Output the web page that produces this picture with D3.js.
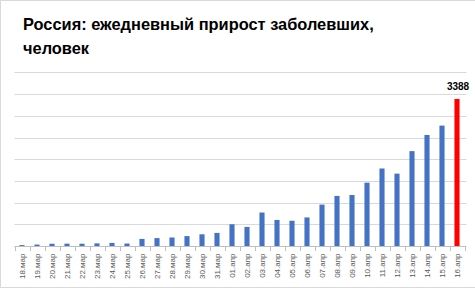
<!DOCTYPE html>
<html lang="ru">
<head>
  <meta charset="utf-8">
  <title>Россия: ежедневный прирост заболевших</title>
  <style>
    body { margin: 0; background: #fff; }
    svg { display: block; font-family: 'Liberation Sans', Arial, sans-serif; }
  </style>
</head>
<body>
  <div id="chart"></div>
  <script src="https://d3js.org/d3.v7.min.js"></script>
  <script>
    // dates on the x axis
    var days = ["18.мар", "19.мар", "20.мар", "21.мар", "22.мар", "23.мар", "24.мар", "25.мар",
      "26.мар", "27.мар", "28.мар", "29.мар", "30.мар", "31.мар", "01.апр", "02.апр", "03.апр",
      "04.апр", "05.апр", "06.апр", "07.апр", "08.апр", "09.апр", "10.апр", "11.апр", "12.апр",
      "13.апр", "14.апр", "15.апр", "16.апр"];

    // new cases per day
    var cases = [21, 33, 52, 54, 53, 61, 71, 57, 163, 182, 196, 228, 270, 302, 501, 440, 771,
      601, 582, 658, 954, 1154, 1175, 1459, 1786, 1667, 2186, 2558, 2774, 3388];

    var gridTicks = [0, 500, 1000, 1500, 2000, 2500, 3000, 3500, 4000];

    var width = 475, height = 289;
    var margin = { top: 72.4, right: 10.5, bottom: 43, left: 14.5 };

    var svg = d3.select("#chart").append("svg")
      .attr("width", width)
      .attr("height", height);

    // outer frame
    svg.append("rect")
      .attr("x", 0.5).attr("y", 0.5)
      .attr("width", width + 10).attr("height", 287)
      .attr("fill", "none")
      .attr("stroke", "#d9d9d9");

    // title
    var title = svg.append("text")
      .attr("x", 23)
      .attr("font-size", 16.4)
      .attr("font-weight", "bold")
      .attr("fill", "#000");
    title.append("tspan").attr("x", 23).attr("y", 30).text("Россия: ежедневный прирост заболевших,");
    title.append("tspan").attr("x", 23).attr("y", 54).text("человек");

    var x = d3.scaleBand()
      .domain(days)
      .range([margin.left, width - margin.right])
      .paddingInner(0.66)
      .paddingOuter(0.33);

    var y = d3.scaleLinear()
      .domain([0, 4000])
      .range([height - margin.bottom, margin.top]);

    // horizontal grid
    svg.append("g")
      .selectAll("line")
      .data(gridTicks.slice(1))
      .join("line")
      .attr("x1", margin.left)
      .attr("x2", width - margin.right + 2)
      .attr("y1", function (d) { return Math.round(y(d)) + 0.5; })
      .attr("y2", function (d) { return Math.round(y(d)) + 0.5; })
      .attr("stroke", "#d9d9d9");

    // bars
    svg.append("g")
      .selectAll("rect")
      .data(cases)
      .join("rect")
      .attr("x", function (d, i) { return x(days[i]); })
      .attr("width", x.bandwidth())
      .attr("y", function (d) { return y(d); })
      .attr("height", function (d) { return y(0) - y(d); })
      .attr("fill", function (d, i) { return i === cases.length - 1 ? "#ff0000" : "#4472c4"; });

    // value label on the last bar
    var last = days[days.length - 1];
    svg.append("text")
      .attr("x", x(last) + x.bandwidth() / 2 + 1)
      .attr("y", y(cases[cases.length - 1]) - 9)
      .attr("text-anchor", "middle")
      .attr("font-size", 10)
      .attr("font-weight", "bold")
      .text(cases[cases.length - 1]);

    // x axis
    var step = x.step();
    var xAxis = d3.axisBottom(x).tickSize(0).tickPadding(0);
    var gx = svg.append("g")
      .attr("transform", "translate(0," + (Math.round(y(0)) + 0.5) + ")")
      .call(xAxis);
    gx.select(".domain").remove();

    svg.append("line")
      .attr("x1", margin.left).attr("x2", width - margin.right + 2)
      .attr("y1", Math.round(y(0)) + 0.5).attr("y2", Math.round(y(0)) + 0.5)
      .attr("stroke", "#bfbfbf");

    // tick marks between categories
    svg.append("g")
      .selectAll("line")
      .data(d3.range(days.length + 1))
      .join("line")
      .attr("x1", function (i) { return Math.round(margin.left + i * step) + 0.5; })
      .attr("x2", function (i) { return Math.round(margin.left + i * step) + 0.5; })
      .attr("y1", Math.round(y(0)))
      .attr("y2", Math.round(y(0)) + 5)
      .attr("stroke", "#bfbfbf");

    gx.selectAll(".tick text")
      .attr("font-size", 8)
      .attr("fill", "#595959")
      .attr("font-family", "'Liberation Sans', Arial, sans-serif")
      .attr("text-anchor", "end")
      .attr("dy", "0.35em")
      .attr("transform", "translate(0,7) rotate(-90)")
      .attr("x", 0)
      .attr("y", 0);
  </script>
</body>
</html>
